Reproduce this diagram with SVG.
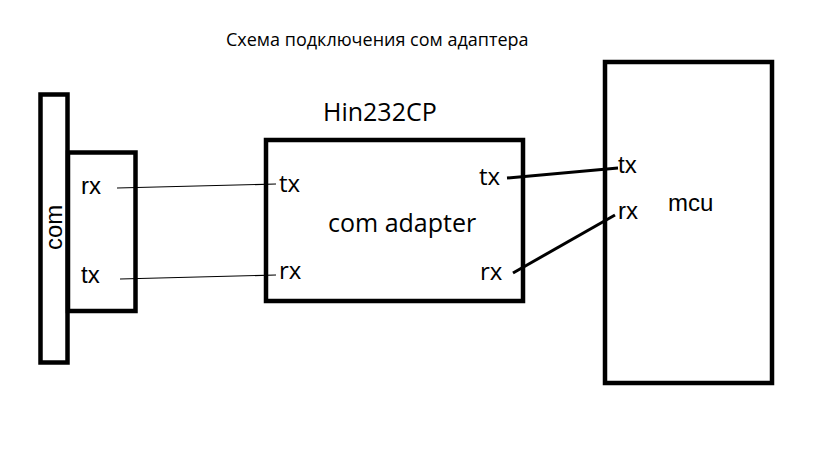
<svg xmlns="http://www.w3.org/2000/svg" width="819" height="460" viewBox="0 0 819 460">
<style>
.box{fill:none;stroke:#000;stroke-width:4.5}
.a{font-family:"Liberation Sans",Arial,sans-serif;font-size:24px;fill:#000}
.s{font-family:"Open Sans","Noto Sans",sans-serif;fill:#000;font-size:24px}
.thin{stroke:#000;stroke-width:1.2;fill:none}
.thick{stroke:#000;stroke-width:3;fill:none}
</style>
<rect width="819" height="460" fill="#fff"/>
<text class="s" x="226" y="46" style="font-size:18px">Схема подключения сом адаптера</text>
<g id="com">
<rect class="box" x="40.5" y="94.5" width="27" height="268"/>
<text class="a" transform="translate(62,250) rotate(-90)">com</text>
</g>
<g id="com-port">
<rect class="box" x="68" y="152.5" width="67.5" height="158.5"/>
<text class="a" x="81" y="194">rx</text>
<text class="a" x="81" y="283">tx</text>
</g>
<g id="adapter">
<rect class="box" x="266" y="140" width="257" height="161"/>
<text class="s" x="323" y="121" style="font-size:25px">Hin232CP</text>
<text class="s" x="328" y="232" style="font-size:25px">com adapter</text>
<text class="s" x="279" y="192">tx</text>
<text class="s" x="279" y="279">rx</text>
<text class="s" x="479" y="185">tx</text>
<text class="s" x="480" y="280">rx</text>
</g>
<g id="mcu">
<rect class="box" x="605" y="62" width="167" height="321"/>
<text class="a" x="618" y="173">tx</text>
<text class="a" x="618" y="219">rx</text>
<text class="a" x="668" y="211">mcu</text>
</g>
<g id="connectors">
<line class="thin" x1="117" y1="188" x2="276" y2="184"/>
<line class="thin" x1="120" y1="279" x2="276" y2="275"/>
<line class="thick" x1="507" y1="178" x2="618" y2="168"/>
<line class="thick" x1="513" y1="273" x2="615" y2="215"/>
</g>
</svg>
